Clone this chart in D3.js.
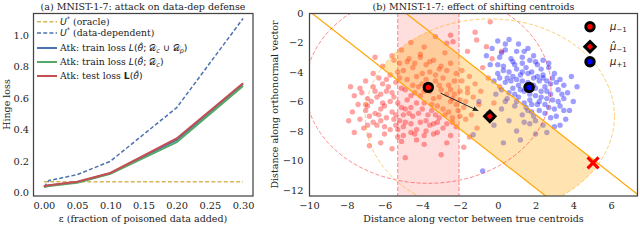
<!DOCTYPE html>
<html>
<head>
<meta charset="utf-8">
<script src="https://cdn.jsdelivr.net/npm/d3@7"></script>
<style>
  body { margin: 0; background: #fff; }
  svg { display: block; font-family: "DejaVu Serif", serif; }
</style>
</head>
<body>
<div id="chart"></div>
<script>
// ---------- panel (a) data ----------
const eps = [0, 0.0075, 0.05, 0.1, 0.2, 0.3];
const oracleBound = [0.07, 0.07, 0.07, 0.07, 0.07, 0.07];
const dataDepBound = [0.038, 0.078, 0.115, 0.2, 0.54, 1.105];
const trainLossAll = [0.04, 0.046, 0.068, 0.124, 0.335, 0.69];
const trainLossClean = [0.037, 0.043, 0.064, 0.12, 0.322, 0.678];
const testLoss = [0.042, 0.048, 0.07, 0.126, 0.345, 0.695];
const xTicksA = [0, 0.05, 0.1, 0.15, 0.2, 0.25, 0.3];
const yTicksA = [0, 0.2, 0.4, 0.6, 0.8, 1.0];

// ---------- panel (b) data ----------
const muNeg = [-3.68, -5.04];
const muNegHat = [-0.42, -7.0];
const muPos = [1.66, -5.04];
const attackPoint = [5.05, -10.15];
const slabEdges = [-5.3, -2.05];       // vertical shaded band
const bandSums = [-9.86, -4.88];        // band lines: x + y = c
const sphereRadius = [6.5, 6.6];        // around muNeg, around muNegHat
const xTicksB = [-10, -8, -6, -4, -2, 0, 2, 4, 6];
const yTicksB = [0, -2, -4, -6, -8, -10, -12];

const redPts = [
  [-5.6,-2.9],[-4.7,-3.1],[-4.1,-2.8],[-3.4,-3.2],[-2.8,-2.7],[-3.9,-2.3],[-5.1,-2.5],
  [-6.1,-3.6],[-5.2,-3.4],[-4.5,-3.7],[-3.8,-3.5],[-3.1,-3.8],[-2.5,-3.4],[-1.9,-3.9],
  [-6.6,-4.1],[-5.7,-4.2],[-5.0,-3.9],[-4.3,-4.3],[-3.6,-4.0],[-2.9,-4.4],[-2.2,-4.1],[-1.5,-4.3],
  [-7.0,-4.6],[-6.3,-4.4],[-5.4,-4.7],[-4.8,-4.5],[-4.0,-4.8],[-3.3,-4.6],[-2.6,-4.9],[-1.9,-4.6],[-1.2,-4.8],
  [-7.3,-5.1],[-6.6,-5.0],[-5.9,-5.3],[-5.1,-5.1],[-4.4,-5.4],[-3.0,-5.2],[-2.3,-5.5],[-1.6,-5.1],[-0.9,-5.3],
  [-7.6,-5.6],[-6.9,-5.8],[-6.2,-5.5],[-5.5,-5.7],[-4.8,-5.9],[-4.1,-5.6],[-3.4,-5.8],[-2.7,-5.5],[-2.0,-5.9],[-1.3,-5.7],
  [-7.4,-6.2],[-6.7,-6.0],[-6.0,-6.3],[-5.3,-6.1],[-4.6,-6.4],[-3.9,-6.1],[-3.2,-6.3],[-2.5,-6.0],[-1.8,-6.4],[-1.0,-6.2],
  [-7.7,-6.7],[-7.0,-6.6],[-6.3,-6.9],[-5.6,-6.7],[-4.9,-6.5],[-4.2,-6.8],[-3.5,-6.6],[-2.8,-6.9],[-2.1,-6.6],[-1.4,-6.9],
  [-7.3,-7.2],[-6.6,-7.4],[-5.9,-7.1],[-5.2,-7.3],[-4.5,-7.0],[-3.8,-7.3],[-3.1,-7.1],[-2.4,-7.4],[-1.7,-7.2],
  [-7.1,-7.8],[-6.4,-7.6],[-5.7,-7.9],[-5.0,-7.7],[-4.3,-7.9],[-3.6,-7.6],[-2.9,-7.8],[-2.2,-7.7],
  [-7.6,-8.1],[-6.8,-8.3],[-6.0,-8.2],[-5.3,-8.4],[-4.6,-8.1],[-3.9,-8.3],[-3.2,-8.1],[-2.5,-8.3],
  [-6.2,-8.8],[-5.1,-8.7],[-4.3,-8.6],[-3.9,-8.9],[-2.7,-8.8],[-1.8,-9.1],[-4.9,-9.8],[-5.6,-9.2],
  [-2.7,-2.05],[-2.37,-1.94],[-1.12,-1.83],[-0.6,-2.28],[-1.2,-1.3],[-2.5,-1.5],[-0.3,-3.1],[-0.8,-3.7],
  [0.2,-2.6],[-1.6,-2.6],[-3.3,-1.6],[-4.6,-2.0],[-6.5,-3.0],[-7.8,-5.0],[-7.9,-7.3],[-0.5,-4.4],
  [0.1,-5.0],[-0.2,-6.1],[-0.6,-7.0],[-1.1,-7.8],[-1.5,-8.4],[-0.4,-0.6],[-3.0,-9.6],[-6.8,-9.0],
  [-5.3,-4.0],[-4.2,-5.0],[-3.6,-5.3],[-4.9,-5.2],[-5.7,-6.0],[-4.3,-6.1],[-3.7,-6.9],[-5.0,-6.9],
  [-5.8,-5.0],[-3.3,-4.2],[-2.5,-5.2],[-6.2,-6.5],[-4.6,-7.5],[-3.4,-7.5],[-2.2,-6.2],[-6.8,-7.0],
  [-5.4,-7.6],[-4.0,-4.1],[-2.9,-6.5],[-6.5,-5.3],[-4.8,-3.3],[-3.0,-3.6],[-5.5,-3.2],[-3.8,-8.0],
  [-2.0,-7.0],[-1.6,-5.4],[-2.3,-4.6],[-4.1,-3.0],[-6.0,-7.7],[-7.0,-6.2],
  [-6.1,-4.8],[-5.2,-4.4],[-4.5,-4.9],[-3.8,-4.5],[-3.1,-4.9],[-6.4,-5.7],[-5.6,-5.4],[-4.6,-5.6],
  [-3.9,-5.3],[-3.1,-5.7],[-2.4,-5.8],[-6.9,-6.3],[-6.1,-6.1],[-5.1,-6.4],[-4.0,-6.5],[-3.5,-6.2],
  [-2.6,-6.7],[-6.5,-6.8],[-5.4,-6.9],[-4.7,-6.8],[-3.3,-6.9],[-2.4,-7.1],[-6.2,-7.3],[-5.5,-7.2],
  [-4.9,-7.4],[-4.1,-7.4],[-3.2,-7.4],[-6.9,-7.6],[-5.3,-7.9],[-4.4,-8.2],[-3.4,-8.2],[-2.7,-7.5],
  [-7.2,-5.4],[-5.9,-4.5],[-2.0,-5.3],[-1.7,-6.0],[-3.6,-3.3],[-4.4,-3.4],[-2.7,-3.9],[-5.0,-8.3]
];

const bluePts = [
  [0.0,-1.9],[0.6,-1.8],[1.1,-2.1],[-0.3,-2.4],[0.4,-2.5],[1.0,-2.6],[1.6,-2.4],[-0.6,-2.9],
  [0.1,-3.0],[0.7,-3.1],[1.3,-3.0],[1.9,-2.9],[2.4,-3.2],
  [-0.4,-3.5],[0.3,-3.6],[0.9,-3.5],[1.5,-3.7],[2.1,-3.5],[2.7,-3.7],
  [0.0,-4.1],[0.6,-4.0],[1.2,-4.2],[1.8,-4.0],[2.4,-4.2],[3.0,-4.1],
  [-0.2,-4.6],[0.4,-4.7],[1.0,-4.5],[1.6,-4.7],[2.2,-4.6],[2.8,-4.8],[3.3,-4.5],
  [0.2,-5.2],[0.8,-5.1],[1.4,-5.3],[2.0,-5.1],[2.6,-5.3],[3.2,-5.2],[3.7,-5.4],
  [0.5,-5.8],[1.1,-5.7],[1.7,-5.9],[2.3,-5.7],[2.9,-5.9],[3.5,-5.8],[4.0,-6.0],
  [0.9,-6.3],[1.5,-6.4],[2.1,-6.2],[2.7,-6.4],[3.3,-6.3],[3.8,-6.6],
  [1.3,-6.9],[1.9,-7.0],[2.5,-6.8],[3.1,-7.0],[3.6,-7.2],
  [1.7,-7.5],[2.4,-7.6],[3.0,-7.7],
  [0.2,-6.5],[-0.5,-6.8],[0.6,-7.3],[-0.2,-7.6],[1.0,-8.0],[2.0,-8.2],[-1.3,-8.25],[-0.8,-10.7],
  [0.3,-8.8],[-1.0,-6.0],[1.2,-8.6],[2.6,-8.1],[4.2,-5.0],[3.9,-4.3],
  [1.3,-3.4],[1.9,-4.4],[1.1,-4.9],[2.5,-5.0],[1.7,-5.5],[2.2,-6.0],[1.4,-6.1],[2.8,-5.5],
  [0.8,-4.3],[2.0,-3.3],[2.6,-4.6],[0.5,-4.4],[1.6,-4.1],[3.0,-6.5],[2.3,-5.3],[0.9,-5.5],
  [1.8,-6.7],[1.0,-3.8],[2.9,-4.4],[1.5,-5.0],
  [0.4,-2.1],[1.4,-2.6],[0.2,-2.7],[0.8,-3.3],[1.7,-3.2],[2.3,-3.8],[0.3,-3.9],[1.3,-4.0],
  [2.1,-4.3],[0.7,-4.6],[1.3,-4.6],[1.9,-4.9],[2.4,-4.4],[3.1,-4.7],[0.6,-5.4],[1.2,-5.2],
  [2.0,-5.6],[2.6,-5.8],[3.4,-5.5],[1.0,-6.0],[1.8,-6.2],[2.5,-6.2],[3.2,-6.0],[1.6,-6.6],
  [2.2,-6.6],[2.8,-7.1],[3.5,-6.6],[2.0,-7.3],[1.4,-7.4],[3.3,-7.6],[2.7,-3.4],[3.5,-4.9],
  [0.1,-4.4],[-0.1,-5.5],[0.4,-6.0],[0.0,-3.5]
];

const W = 640, H = 243;
const svg = d3.select("#chart").append("svg").attr("width", W).attr("height", H);
const defs = svg.append("defs");

const seaBlue = "#4c72b0", seaGreen = "#55a868", seaRed = "#c44e52", seaGold = "#d6b656";

// =================== panel (a) ===================
const xa = d3.scaleLinear([-0.0165, 0.315], [33, 253]);
const ya = d3.scaleLinear([-0.02, 1.14], [196, 13]);

defs.append("clipPath").attr("id", "clipA").append("rect")
  .attr("x", 33).attr("y", 13).attr("width", 220).attr("height", 183);

const ga = svg.append("g");
const lineA = (vals) => d3.line().x((d, i) => xa(eps[i])).y((d) => ya(d))(vals);

const plotA = ga.append("g").attr("clip-path", "url(#clipA)");
plotA.append("path").attr("d", lineA(oracleBound)).attr("fill", "none")
  .attr("stroke", seaGold).attr("stroke-width", 1.5).attr("stroke-dasharray", "4,2.2");
plotA.append("path").attr("d", lineA(dataDepBound)).attr("fill", "none")
  .attr("stroke", seaBlue).attr("stroke-width", 1.5).attr("stroke-dasharray", "4,2.2");
plotA.append("path").attr("d", lineA(trainLossAll)).attr("fill", "none")
  .attr("stroke", seaBlue).attr("stroke-width", 2);
plotA.append("path").attr("d", lineA(trainLossClean)).attr("fill", "none")
  .attr("stroke", seaGreen).attr("stroke-width", 2);
plotA.append("path").attr("d", lineA(testLoss)).attr("fill", "none")
  .attr("stroke", seaRed).attr("stroke-width", 2);

// axes (no tick marks)
ga.append("g").attr("transform", "translate(0,196)")
  .call(d3.axisBottom(xa).tickValues(xTicksA).tickFormat(d3.format(".2f")).tickSize(0).tickPadding(6))
  .call((g) => g.select(".domain").remove());
ga.append("g").attr("transform", "translate(33,0)")
  .call(d3.axisLeft(ya).tickValues(yTicksA).tickFormat(d3.format(".1f")).tickSize(0).tickPadding(4))
  .call((g) => g.select(".domain").remove());

ga.append("rect").attr("x", 33.5).attr("y", 13.5).attr("width", 219.5).attr("height", 182.5)
  .attr("fill", "none").attr("stroke", "#444").attr("stroke-width", 1.25);

ga.append("text").attr("x", 143).attr("y", 9.5).attr("text-anchor", "middle")
  .attr("font-size", 9.5).attr("fill", "#222").text("(a) MNIST-1-7: attack on data-dep defense");
ga.append("text").attr("x", 143).attr("y", 222).attr("text-anchor", "middle")
  .attr("font-size", 9.5).attr("fill", "#222").text("ε (fraction of poisoned data added)");
ga.append("text").attr("transform", "translate(10,104.5) rotate(-90)").attr("text-anchor", "middle")
  .attr("font-size", 9.5).attr("fill", "#222").text("Hinge loss");

// legend (a)
const legA = [
  { color: seaGold, dash: "4,2.2", y: 21.7, parts: [["U", "it"], ["*", "sup"], [" (oracle)"]] },
  { color: seaBlue, dash: "4,2.2", y: 33, parts: [["U", "it"], ["*", "sup"], [" (data-dependent)"]] },
  { color: seaBlue, dash: null, y: 48, parts: [["Atk: train loss "], ["L", "it"], ["(", "m"], ["θ̂", "it"], ["; ", "m"],
      ["𝒟", "m"], ["c", "sub"], [" ∪ ", "m"], ["𝒟", "m"], ["p", "sub"], [")", "m"]] },
  { color: seaGreen, dash: null, y: 62, parts: [["Atk: train loss "], ["L", "it"], ["(", "m"], ["θ̂", "it"], ["; ", "m"],
      ["𝒟", "m"], ["c", "sub"], [")", "m"]] },
  { color: seaRed, dash: null, y: 76, parts: [["Atk: test loss "], ["L", "bf"], ["(", "m"], ["θ̂", "it"], [")", "m"]] }
];
legA.forEach((e) => {
  ga.append("line").attr("x1", 37).attr("x2", 57).attr("y1", e.y).attr("y2", e.y)
    .attr("stroke", e.color).attr("stroke-width", e.dash ? 1.5 : 2).attr("stroke-dasharray", e.dash);
  const t = ga.append("text").attr("x", 60).attr("y", e.y + 3.3).attr("font-size", 9.3).attr("fill", "#222");
  let shift = 0;
  e.parts.forEach(([s, kind]) => {
    const sp = t.append("tspan").text(s);
    let target = 0;
    if (kind === "it") sp.attr("font-family", "DejaVu Sans").attr("font-style", "italic");
    if (kind === "m") sp.attr("font-family", "DejaVu Sans");
    if (kind === "bf") sp.attr("font-family", "DejaVu Sans").attr("font-weight", "bold");
    if (kind === "sup") { sp.attr("font-size", 6.5).attr("font-family", "DejaVu Sans"); target = -4; }
    if (kind === "sub") { sp.attr("font-size", 6.5).attr("font-family", "DejaVu Sans").attr("font-style", "italic"); target = 2; }
    if (target !== shift) { sp.attr("dy", target - shift); shift = target; }
  });
});

// =================== panel (b) ===================
const xb = d3.scaleLinear([-10, 7.43], [309, 638]);
const yb = d3.scaleLinear([-12.4, 0], [196, 13]);
const kx = xb(1) - xb(0), ky = yb(0) - yb(1);

defs.append("clipPath").attr("id", "clipB").append("rect")
  .attr("x", 309).attr("y", 13).attr("width", 329).attr("height", 183);
defs.append("clipPath").attr("id", "clipSphere").append("ellipse")
  .attr("cx", xb(muNegHat[0])).attr("cy", yb(muNegHat[1]))
  .attr("rx", sphereRadius[1] * kx).attr("ry", sphereRadius[1] * ky);

const gb = svg.append("g");
const plotB = gb.append("g").attr("clip-path", "url(#clipB)");

// shaded vertical slab
plotB.append("rect").attr("x", xb(slabEdges[0])).attr("y", 13)
  .attr("width", xb(slabEdges[1]) - xb(slabEdges[0])).attr("height", 183)
  .attr("fill", "#ff0000").attr("fill-opacity", 0.13);
plotB.selectAll("line.slab").data(slabEdges).join("line").attr("class", "slab")
  .attr("x1", (d) => xb(d)).attr("x2", (d) => xb(d)).attr("y1", 13).attr("y2", 196)
  .attr("stroke", "#ff0000").attr("stroke-opacity", 0.45).attr("stroke-width", 1).attr("stroke-dasharray", "4,2");

// scatter
plotB.append("g").selectAll("circle").data(redPts).join("circle")
  .attr("cx", (d) => xb(d[0])).attr("cy", (d) => yb(d[1])).attr("r", 2.7)
  .attr("fill", "#ff0000").attr("fill-opacity", 0.36);
plotB.append("g").selectAll("circle").data(bluePts).join("circle")
  .attr("cx", (d) => xb(d[0])).attr("cy", (d) => yb(d[1])).attr("r", 2.7)
  .attr("fill", "#0000ff").attr("fill-opacity", 0.38);

// feasible band inside sphere
const bx = [-30, 30];
const bandPoly = [
  [bx[0], bandSums[0] - bx[0]], [bx[1], bandSums[0] - bx[1]],
  [bx[1], bandSums[1] - bx[1]], [bx[0], bandSums[1] - bx[0]]
];
plotB.append("path")
  .attr("d", "M" + bandPoly.map((p) => [xb(p[0]), yb(p[1])].join(",")).join("L") + "Z")
  .attr("clip-path", "url(#clipSphere)")
  .attr("fill", "#ffa500").attr("fill-opacity", 0.3);
plotB.selectAll("line.band").data(bandSums).join("line").attr("class", "band")
  .attr("x1", xb(bx[0])).attr("y1", (d) => yb(d - bx[0]))
  .attr("x2", xb(bx[1])).attr("y2", (d) => yb(d - bx[1]))
  .attr("stroke", "#ffa500").attr("stroke-width", 1.2);

// spheres
plotB.append("ellipse").attr("cx", xb(muNeg[0])).attr("cy", yb(muNeg[1]))
  .attr("rx", sphereRadius[0] * kx).attr("ry", sphereRadius[0] * ky)
  .attr("fill", "none").attr("stroke", "#ff0000").attr("stroke-opacity", 0.45)
  .attr("stroke-width", 1).attr("stroke-dasharray", "4,2");
plotB.append("ellipse").attr("cx", xb(muNegHat[0])).attr("cy", yb(muNegHat[1]))
  .attr("rx", sphereRadius[1] * kx).attr("ry", sphereRadius[1] * ky)
  .attr("fill", "none").attr("stroke", "#ffa500").attr("stroke-opacity", 0.55)
  .attr("stroke-width", 1).attr("stroke-dasharray", "4,2");

// arrow from mu_-1 toward hat mu_-1
defs.append("marker").attr("id", "arrowHead").attr("viewBox", "0 0 10 10")
  .attr("refX", 9).attr("refY", 5).attr("markerWidth", 6).attr("markerHeight", 6)
  .attr("orient", "auto").append("path").attr("d", "M0,1L10,5L0,9Z").attr("fill", "#222");
const lerp = (t) => [muNeg[0] + t * (muNegHat[0] - muNeg[0]), muNeg[1] + t * (muNegHat[1] - muNeg[1])];
const a0 = lerp(0.2), a1 = lerp(0.81);
plotB.append("line").attr("x1", xb(a0[0])).attr("y1", yb(a0[1])).attr("x2", xb(a1[0])).attr("y2", yb(a1[1]))
  .attr("stroke", "#222").attr("stroke-width", 1).attr("marker-end", "url(#arrowHead)");

// markers
function circleMarker(g, x, y, fill) {
  g.append("circle").attr("cx", x).attr("cy", y).attr("r", 4.2)
    .attr("fill", fill).attr("stroke", "#000").attr("stroke-width", 3);
}
function diamondMarker(g, x, y, fill) {
  const s = 5.2;
  g.append("path").attr("d", `M${x},${y - s}L${x + s},${y}L${x},${y + s}L${x - s},${y}Z`)
    .attr("fill", fill).attr("stroke", "#000").attr("stroke-width", 3).attr("stroke-linejoin", "miter");
}
circleMarker(plotB, xb(muNeg[0]), yb(muNeg[1]), "#ff0000");
circleMarker(plotB, xb(muPos[0]), yb(muPos[1]), "#0000ff");
diamondMarker(plotB, xb(muNegHat[0]), yb(muNegHat[1]), "#ff0000");

// attack point X
const ax = xb(attackPoint[0]), ay = yb(attackPoint[1]), xs = 5.5;
plotB.append("path").attr("d", `M${ax - xs},${ay - xs}L${ax + xs},${ay + xs}M${ax - xs},${ay + xs}L${ax + xs},${ay - xs}`)
  .attr("stroke", "#ff0000").attr("stroke-width", 3.2);

// axes
gb.append("g").attr("transform", "translate(0,196)")
  .call(d3.axisBottom(xb).tickValues(xTicksB).tickFormat(d3.format("d")).tickSize(0).tickPadding(6))
  .call((g) => g.select(".domain").remove());
gb.append("g").attr("transform", "translate(309,0)")
  .call(d3.axisLeft(yb).tickValues(yTicksB).tickFormat(d3.format("d")).tickSize(0).tickPadding(5.5))
  .call((g) => g.select(".domain").remove());
gb.append("rect").attr("x", 309.5).attr("y", 13.5).attr("width", 328).attr("height", 182.5)
  .attr("fill", "none").attr("stroke", "#444").attr("stroke-width", 1.25);

gb.append("text").attr("x", 473.5).attr("y", 9.5).attr("text-anchor", "middle")
  .attr("font-size", 9.5).attr("fill", "#222").text("(b) MNIST-1-7: effect of shifting centroids");
gb.append("text").attr("x", 473.5).attr("y", 221.5).attr("text-anchor", "middle")
  .attr("font-size", 9.5).attr("fill", "#222").text("Distance along vector between true centroids");
gb.append("text").attr("transform", "translate(278,104.5) rotate(-90)").attr("text-anchor", "middle")
  .attr("font-size", 9.5).attr("fill", "#222").text("Distance along orthonormal vector");

// legend (b)
const legB = [
  { y: 26.7, kind: "circle", fill: "#ff0000", sym: "μ", sub: "−1" },
  { y: 46.7, kind: "diamond", fill: "#ff0000", sym: "μ̂", sub: "−1" },
  { y: 61.7, kind: "circle", fill: "#0000ff", sym: "μ", sub: "+1" }
];
legB.forEach((e) => {
  if (e.kind === "circle") circleMarker(gb, 590, e.y, e.fill);
  else diamondMarker(gb, 590, e.y, e.fill);
  const t = gb.append("text").attr("x", 610).attr("y", e.y + 3).attr("font-family", "DejaVu Sans")
    .attr("font-size", 10).attr("fill", "#222");
  t.append("tspan").attr("font-style", "italic").text(e.sym);
  t.append("tspan").attr("font-size", 7).attr("dy", 2.5).text(e.sub);
});

// tick text styling
svg.selectAll(".tick text").attr("font-family", "DejaVu Serif").attr("font-size", 9.8).attr("fill", "#222");
</script>
</body>
</html>
